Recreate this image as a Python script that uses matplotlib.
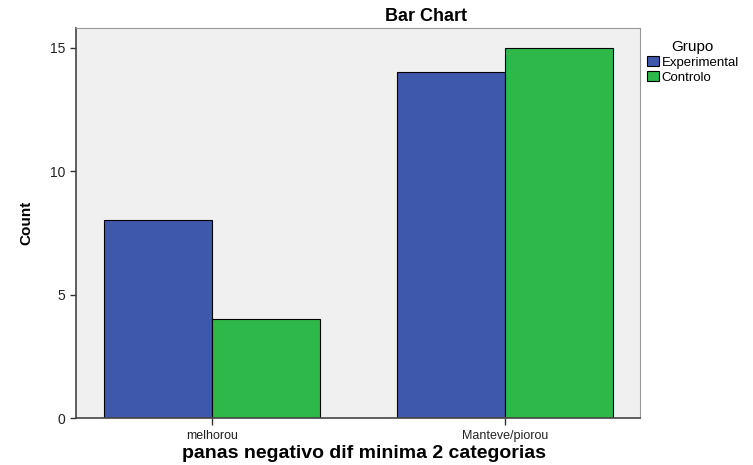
import numpy as np
import matplotlib.pyplot as plt

plt.rcParams['font.family'] = ['Liberation Sans', 'DejaVu Sans']

# data
categories = ["melhorou", "Manteve/piorou"]
groups = ["Experimental", "Controlo"]
experimental = [8, 14]
controlo = [4, 15]
colors = ["#3e58ac", "#2fb84a"]

fig = plt.figure(figsize=(7.53, 4.65), dpi=100)
ax = fig.add_axes([0.101, 0.101, 0.749, 0.839])
ax.set_facecolor("#f0f0f0")

x = np.arange(len(categories))
w = 0.369
ax.bar(x - w / 2, experimental, w, color=colors[0], edgecolor="black", linewidth=0.8, label=groups[0])
ax.bar(x + w / 2, controlo, w, color=colors[1], edgecolor="black", linewidth=0.8, label=groups[1])

ax.set_xlim(-0.464, 1.461)
ax.set_ylim(0, 15.8)
ax.set_yticks([0, 5, 10, 15])
ax.set_xticks(x)
ax.set_xticklabels(categories)
ax.tick_params(axis="y", labelsize=10, length=4, width=1, color="#333333", colors="#222222")
ax.tick_params(axis="x", labelsize=9, length=5, width=1, color="#333333", colors="#222222")

for s in ["top", "right"]:
    ax.spines[s].set_color("#999999")
for s in ["left", "bottom"]:
    ax.spines[s].set_color("#444444")
    ax.spines[s].set_linewidth(1.2)

ax.set_ylabel("Count", fontsize=11, fontweight="bold")
ax.yaxis.set_label_coords(-0.076, 0.5)
ax.set_xlabel("panas negativo dif minima 2 categorias", fontsize=14, fontweight="bold")
ax.xaxis.set_label_coords(0.51, -0.068)

fig.text(0.566, 0.964, "Bar Chart", ha="center", va="center", fontsize=13, fontweight="bold")

leg = ax.legend(loc="upper left", bbox_to_anchor=(1.0, 0.985), title="Grupo", frameon=False,
                fontsize=9.5, title_fontsize=11, handlelength=0.9, handleheight=0.8,
                handletextpad=0.25, labelspacing=0.15, borderaxespad=0.2, borderpad=0.3)

fig.savefig("out.png", dpi=100)
